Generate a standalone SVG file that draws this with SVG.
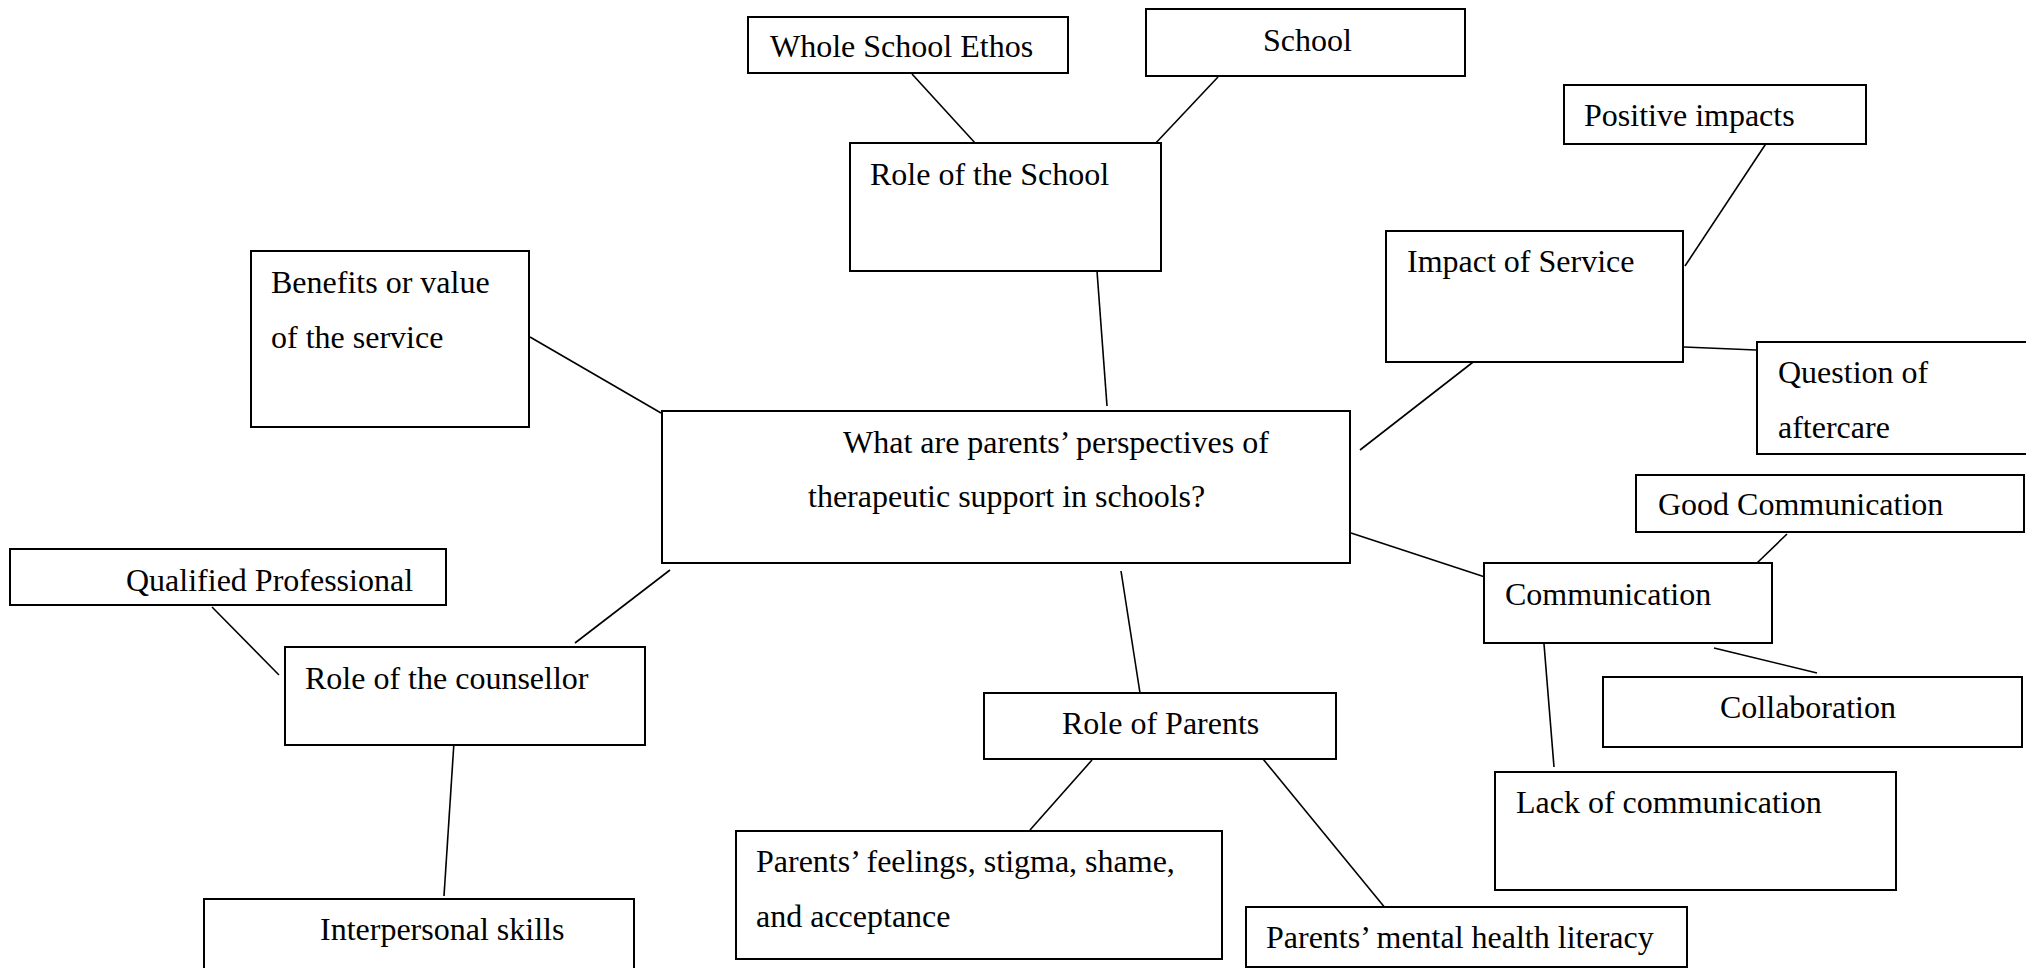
<svg xmlns="http://www.w3.org/2000/svg" width="2026" height="968" viewBox="0 0 2026 968">
  <style>
    .box { fill: #ffffff; stroke: #000000; stroke-width: 2; }
    .link { stroke: #000000; stroke-width: 1.6; fill: none; }
    .label { font-family: "Liberation Serif", "Times New Roman", serif; font-size: 32px; fill: #000000; }
  </style>
  <rect width="2026" height="968" fill="#ffffff"/>

  <!-- connectors -->
  <g id="connectors">
    <line class="link" x1="912" y1="74" x2="976" y2="144"/>
    <line class="link" x1="1218" y1="77" x2="1153" y2="146"/>
    <line class="link" x1="1097" y1="271" x2="1107" y2="406"/>
    <line class="link" x1="530" y1="337" x2="661" y2="413"/>
    <line class="link" x1="670" y1="570" x2="575" y2="643"/>
    <line class="link" x1="212" y1="607" x2="279" y2="675"/>
    <line class="link" x1="454" y1="742" x2="444" y2="896"/>
    <line class="link" x1="1121" y1="571" x2="1140" y2="693"/>
    <line class="link" x1="1092" y1="760" x2="1030" y2="830"/>
    <line class="link" x1="1263" y1="759" x2="1386" y2="909"/>
    <line class="link" x1="1360" y1="450" x2="1477" y2="359"/>
    <line class="link" x1="1769" y1="139" x2="1685" y2="266"/>
    <line class="link" x1="1684" y1="347" x2="1756" y2="350"/>
    <line class="link" x1="1351" y1="533" x2="1488" y2="578"/>
    <line class="link" x1="1787" y1="534" x2="1757" y2="563"/>
    <line class="link" x1="1714" y1="648" x2="1817" y2="673"/>
    <line class="link" x1="1544" y1="644" x2="1554" y2="767"/>
  </g>

  <!-- central question -->
  <g id="node-centre">
    <rect class="box" x="662" y="411" width="688" height="152"/>
    <text class="label" x="843" y="453">What are parents’ perspectives of</text>
    <text class="label" x="808" y="507">therapeutic support in schools?</text>
  </g>

  <!-- role of the school branch -->
  <g id="node-role-school">
    <rect class="box" x="850" y="143" width="311" height="128"/>
    <text class="label" x="870" y="185">Role of the School</text>
  </g>
  <g id="node-whole-school-ethos">
    <rect class="box" x="748" y="17" width="320" height="56"/>
    <text class="label" x="770" y="57">Whole School Ethos</text>
  </g>
  <g id="node-school">
    <rect class="box" x="1146" y="9" width="319" height="67"/>
    <text class="label" x="1263" y="51">School</text>
  </g>

  <!-- benefits -->
  <g id="node-benefits">
    <rect class="box" x="251" y="251" width="278" height="176"/>
    <text class="label" x="271" y="293">Benefits or value</text>
    <text class="label" x="271" y="348">of the service</text>
  </g>

  <!-- role of the counsellor branch -->
  <g id="node-role-counsellor">
    <rect class="box" x="285" y="647" width="360" height="98"/>
    <text class="label" x="305" y="689">Role of the counsellor</text>
  </g>
  <g id="node-qualified-professional">
    <rect class="box" x="10" y="549" width="436" height="56"/>
    <text class="label" x="126" y="591">Qualified Professional</text>
  </g>
  <g id="node-interpersonal-skills">
    <rect class="box" x="204" y="899" width="430" height="80"/>
    <text class="label" x="320" y="940">Interpersonal skills</text>
  </g>

  <!-- role of parents branch -->
  <g id="node-role-parents">
    <rect class="box" x="984" y="693" width="352" height="66"/>
    <text class="label" x="1062" y="734">Role of Parents</text>
  </g>
  <g id="node-parents-feelings">
    <rect class="box" x="736" y="831" width="486" height="128"/>
    <text class="label" x="756" y="872">Parents’ feelings, stigma, shame,</text>
    <text class="label" x="756" y="927">and acceptance</text>
  </g>
  <g id="node-mental-health-literacy">
    <rect class="box" x="1246" y="907" width="441" height="60"/>
    <text class="label" x="1266" y="948">Parents’ mental health literacy</text>
  </g>

  <!-- impact of service branch -->
  <g id="node-impact">
    <rect class="box" x="1386" y="231" width="297" height="131"/>
    <text class="label" x="1407" y="272">Impact of Service</text>
  </g>
  <g id="node-positive-impacts">
    <rect class="box" x="1564" y="85" width="302" height="59"/>
    <text class="label" x="1584" y="126">Positive impacts</text>
  </g>
  <g id="node-aftercare">
    <rect class="box" x="1757" y="342" width="290" height="112"/>
    <text class="label" x="1778" y="383">Question of</text>
    <text class="label" x="1778" y="438">aftercare</text>
  </g>

  <!-- communication branch -->
  <g id="node-communication">
    <rect class="box" x="1484" y="563" width="288" height="80"/>
    <text class="label" x="1505" y="605">Communication</text>
  </g>
  <g id="node-good-communication">
    <rect class="box" x="1636" y="475" width="388" height="57"/>
    <text class="label" x="1658" y="515">Good Communication</text>
  </g>
  <g id="node-collaboration">
    <rect class="box" x="1603" y="677" width="419" height="70"/>
    <text class="label" x="1720" y="718">Collaboration</text>
  </g>
  <g id="node-lack-communication">
    <rect class="box" x="1495" y="772" width="401" height="118"/>
    <text class="label" x="1516" y="813">Lack of communication</text>
  </g>
</svg>
